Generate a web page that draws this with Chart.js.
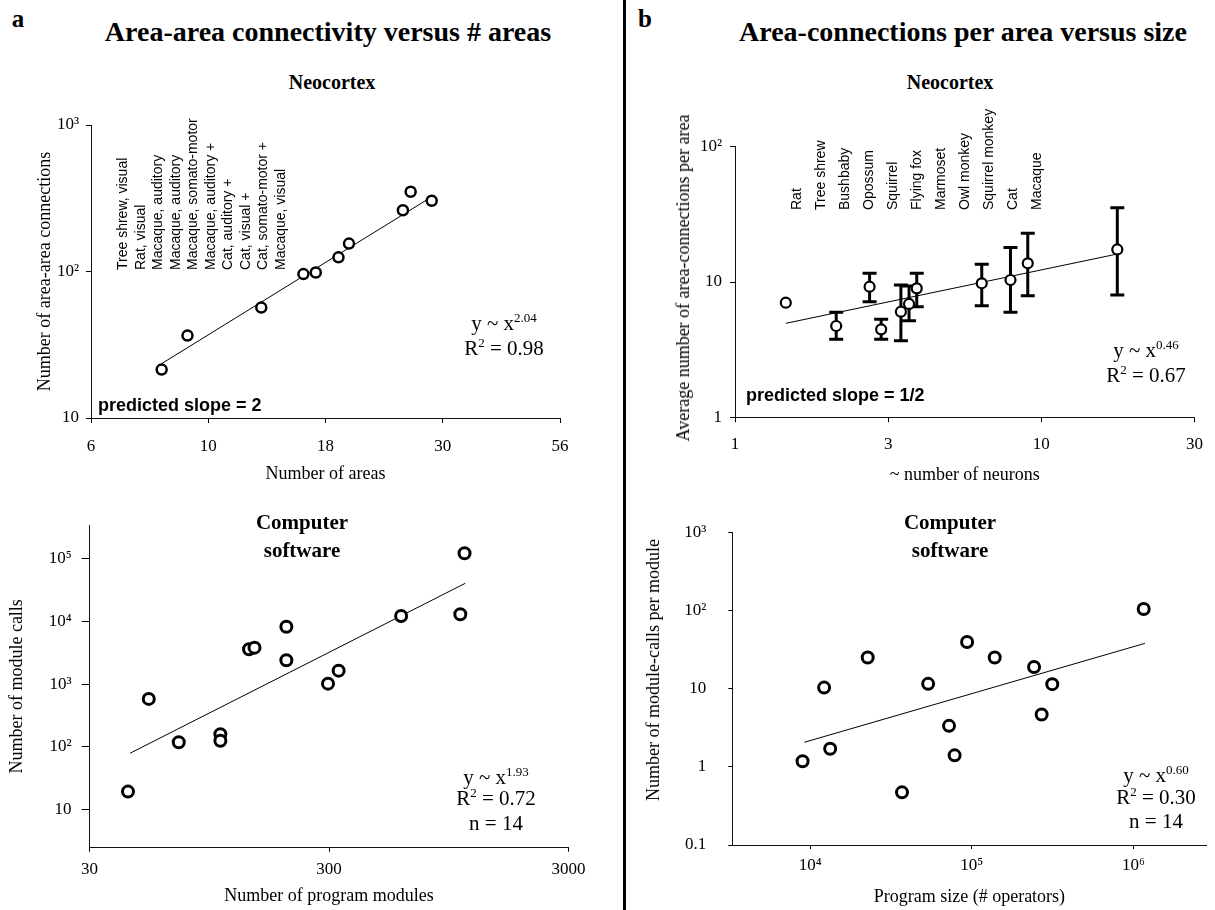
<!DOCTYPE html>
<html>
<head>
<meta charset="utf-8">
<title>Connectivity versus size</title>
<script src="https://cdn.jsdelivr.net/npm/chart.js@4.4.1/dist/chart.umd.min.js"></script>
<style>
  body { margin: 0; background: #fff; }
  #page { position: relative; width: 1215px; height: 910px; overflow: hidden;
          font-family: "Liberation Serif", "Times New Roman", serif; color: #000; }
  #page canvas { position: absolute; }
  .t { position: absolute; white-space: nowrap; line-height: 1; }
  .t sup { font-size: 62%; vertical-align: 0.55em; line-height: 0; }
  .letter { font-weight: bold; font-size: 25px; }
  .big { font-weight: bold; font-size: 28px; }
  .sub { font-weight: bold; font-size: 20px; }
  .soft { font-weight: bold; font-size: 21px; }
  .fit { font-size: 21px; }
  .ax { font-size: 18px; }
  .sp { font-family: "Liberation Sans", Arial, sans-serif; font-size: 14px; }
  .pred { font-family: "Liberation Sans", Arial, sans-serif; font-size: 18px; font-weight: bold; }
  #divider { position: absolute; left: 623px; top: 0; width: 3px; height: 910px; background: #000; }
</style>
</head>
<body>
<div id="page">
  <div id="divider"></div>
  <canvas id="areaChart" width="600" height="400" style="left:0;top:100px"></canvas>
  <canvas id="neuronChart" width="595" height="400" style="left:620px;top:100px"></canvas>
  <canvas id="moduleChart" width="600" height="410" style="left:0;top:500px"></canvas>
  <canvas id="sizeChart" width="595" height="410" style="left:620px;top:500px"></canvas>
</div>
<script>
// a, neocortex: number of areas vs area-area connections
var areaCount = [8.4, 9.5, 13.5, 16.5, 17.5, 19.5, 20.5, 26.5, 27.5, 30.4];
var areaConnections = [21.4, 36.5, 56.7, 96, 98.5, 125, 155, 262, 350, 304];
var areaFitX = [8.4, 30.8];
var areaFitY = [23.5, 332];
var areaStudies = ['Tree shrew, visual', 'Rat, visual', 'Macaque, auditory', 'Macaque, auditory',
  'Macaque, somato-motor', 'Macaque, auditory +', 'Cat, auditory +', 'Cat, visual +',
  'Cat, somato-motor +', 'Macaque, visual'];
var areaXTicks = ['6', '10', '18', '30', '56'];
var areaYTicks = ['10', '10²', '10³'];

// b, neocortex: neurons vs connections per area (with error bars)
var neuronCount = [1.465, 2.14, 2.75, 3.0, 3.48, 3.70, 3.92, 6.39, 7.93, 9.03, 17.7];
var connPerArea = [7.03, 4.73, 9.23, 4.47, 6.03, 6.88, 8.98, 9.78, 10.35, 13.75, 17.4];
var connPerAreaLow = [null, 3.77, 7.15, 3.77, 3.68, 5.18, 6.57, 6.68, 5.97, 7.92, 8.02];
var connPerAreaHigh = [null, 5.97, 11.6, 5.3, 9.5, 9.34, 11.6, 13.5, 18.0, 22.9, 35.4];
var neuronFitX = [1.465, 17.7];
var neuronFitY = [4.95, 16.1];
var species = ['Rat', 'Tree shrew', 'Bushbaby', 'Opossum', 'Squirrel', 'Flying fox', 'Marmoset',
  'Owl monkey', 'Squirrel monkey', 'Cat', 'Macaque'];
var neuronXTicks = ['1', '3', '10', '30'];
var neuronYTicks = ['1', '10', '10²'];

// a, software: program modules vs module calls
var moduleCount = [43.4, 53, 70.7, 105.5, 105.5, 139, 146.5, 199, 199, 297, 329, 600, 1060, 1104];
var moduleCalls = [19.5, 582, 119, 160, 126, 3590, 3805, 8200, 2400, 1018, 1639, 12140, 12920, 120500];
var moduleFitX = [44.3, 1112];
var moduleFitY = [79.7, 40200];
var moduleXTicks = ['30', '300', '3000'];
var moduleYTicks = ['10', '10²', '10³', '10⁴', '10⁵'];

// b, software: program size vs calls per module
var programSize = [8980, 12200, 13300, 22700, 37000, 53700, 72300, 78300, 93500, 138600, 242700, 270400, 314600, 1157000];
var callsPerModule = [1.18, 10.3, 1.70, 25.0, 0.471, 11.5, 3.34, 1.40, 39.4, 25.0, 18.9, 4.67, 11.4, 104];
var sizeFitX = [9220, 1177000];
var sizeFitY = [2.06, 37.9];
var sizeXTicks = ['10⁴', '10⁵', '10⁶'];
var sizeYTicks = ['0.1', '1', '10', '10²', '10³'];

Chart.defaults.font.family = '"Liberation Serif", "Times New Roman", serif';
Chart.defaults.font.size = 17;
Chart.defaults.color = '#000';

function logAxis(o) {
  return {
    type: 'logarithmic',
    min: o.min,
    max: o.max,
    afterBuildTicks: function (scale) {
      scale.ticks = o.values.map(function (v) { return { value: v }; });
    },
    afterFit: function (scale) {
      if (o.width) scale.width = o.width;
      if (o.height) scale.height = o.height;
    },
    grid: { drawOnChartArea: false, drawTicks: true, tickLength: o.tick || 5, color: '#000' },
    border: { display: true, color: '#111', width: 1 },
    ticks: {
      autoSkip: false, maxRotation: 0, minRotation: 0, padding: o.pad,
      callback: function (v, i) { return o.labels[i]; }
    },
    title: o.title ? { display: true, text: o.title, font: { size: 18 }, padding: o.titlePad } : { display: false }
  };
}

function points(xs, ys, r, bw) {
  return {
    data: xs.map(function (x, i) { return { x: x, y: ys[i] }; }),
    pointRadius: r, pointBorderWidth: bw, pointBorderColor: '#000',
    pointBackgroundColor: '#fff', showLine: false
  };
}

function fitLine(xs, ys) {
  return {
    data: xs.map(function (x, i) { return { x: x, y: ys[i] }; }),
    showLine: true, borderColor: '#000', borderWidth: 1, pointRadius: 0
  };
}

function baseOptions(padding, x, y) {
  return {
    responsive: false,
    animation: false,
    events: [],
    layout: { padding: padding },
    plugins: { legend: { display: false }, tooltip: { enabled: false } },
    scales: { x: x, y: y }
  };
}

// error bars drawn from the y scale, under the markers
var errorBars = {
  id: 'errorBars',
  beforeDatasetsDraw: function (chart) {
    var ctx = chart.ctx, xs = chart.scales.x, ys = chart.scales.y;
    ctx.save();
    ctx.strokeStyle = '#000';
    ctx.lineWidth = 3;
    neuronCount.forEach(function (n, i) {
      if (connPerAreaLow[i] == null) return;
      var px = xs.getPixelForValue(n);
      var lo = ys.getPixelForValue(connPerAreaLow[i]);
      var hi = ys.getPixelForValue(connPerAreaHigh[i]);
      ctx.beginPath();
      ctx.moveTo(px, lo); ctx.lineTo(px, hi);
      ctx.moveTo(px - 7, lo); ctx.lineTo(px + 7, lo);
      ctx.moveTo(px - 7, hi); ctx.lineTo(px + 7, hi);
      ctx.stroke();
    });
    ctx.restore();
  }
};

// x ticks of panel a are equally spaced on the log axis
var areaTickValues = areaXTicks.map(function (t, i) {
  return 6 * Math.pow(56 / 6, i / (areaXTicks.length - 1));
});
var neuronTickValues = neuronXTicks.map(function (t, i) { return Math.pow(10, i / 2); });

new Chart(document.getElementById('areaChart'), {
  type: 'scatter',
  data: { datasets: [points(areaCount, areaConnections, 5, 2.5), fitLine(areaFitX, areaFitY)] },
  options: baseOptions({ top: 25, right: 40, bottom: 0, left: 0 },
    logAxis({ min: 6, max: 56, values: areaTickValues, labels: areaXTicks, height: 82, pad: 13,
      title: 'Number of areas', titlePad: { top: 0, bottom: 15 } }),
    logAxis({ min: 10, max: 1000, values: [10, 100, 1000], labels: areaYTicks, width: 91, pad: 7,
      title: 'Number of area-area connections', titlePad: { top: 34, bottom: 0 } }))
});

new Chart(document.getElementById('neuronChart'), {
  type: 'scatter',
  data: { datasets: [points(neuronCount, connPerArea, 5, 2.2), fitLine(neuronFitX, neuronFitY)] },
  options: baseOptions({ top: 46.7, right: 20.4, bottom: 0, left: 0 },
    logAxis({ min: 1, max: Math.pow(10, 1.5), values: neuronTickValues, labels: neuronXTicks, height: 82.7, pad: 12,
      title: '~ number of neurons', titlePad: { top: 0, bottom: 14 } }),
    logAxis({ min: 1, max: 100, values: [1, 10, 100], labels: neuronYTicks, width: 115, pad: 8 })),
  plugins: [errorBars]
});

new Chart(document.getElementById('moduleChart'), {
  type: 'scatter',
  data: { datasets: [points(moduleCount, moduleCalls, 5.5, 3), fitLine(moduleFitX, moduleFitY)] },
  options: baseOptions({ top: 25, right: 31.5, bottom: 0, left: 0 },
    logAxis({ min: 30, max: 3000, values: [30, 300, 3000], labels: moduleXTicks, height: 62.3, pad: 8, tick: 4,
      title: 'Number of program modules', titlePad: { top: 0, bottom: 2.5 } }),
    logAxis({ min: 2.5, max: 340000, values: [10, 100, 1000, 10000, 100000], labels: moduleYTicks, width: 89.6, pad: 10, tick: 8,
      title: 'Number of module calls', titlePad: { top: 6, bottom: 0 } }))
});

new Chart(document.getElementById('sizeChart'), {
  type: 'scatter',
  data: { datasets: [points(programSize, callsPerModule, 5.5, 3), fitLine(sizeFitX, sizeFitY)] },
  options: baseOptions({ top: 26.7, right: 2, bottom: 0, left: 0 },
    logAxis({ min: 3300, max: 2830000, values: [10000, 100000, 1000000], labels: sizeXTicks, height: 65, pad: 6, tick: 4,
      title: 'Program size (# operators)', titlePad: { top: 0, bottom: 1.5 } }),
    logAxis({ min: 0.1, max: 1000, values: [0.1, 1, 10, 100, 1000], labels: sizeYTicks, width: 112.3, pad: 22, tick: 4 }))
});

// text around the plots
var page = document.getElementById('page');
function addText(html, x, y, cls, anchor) {
  var d = document.createElement('div');
  d.className = 't ' + cls;
  d.innerHTML = html;
  d.style.left = x + 'px';
  d.style.top = y + 'px';
  if (anchor === 'left') d.style.transform = 'translate(0,-50%)';
  else if (anchor === 'rot') d.style.transform = 'translate(-50%,-50%) rotate(-90deg)';
  else if (anchor === 'up') { d.style.transformOrigin = '0 0'; d.style.transform = 'rotate(-90deg) translateY(-50%)'; }
  else d.style.transform = 'translate(-50%,-50%)';
  page.appendChild(d);
}

addText('a', 18, 18, 'letter');
addText('Area-area connectivity versus # areas', 328, 32, 'big');
addText('Neocortex', 332, 82, 'sub');
areaStudies.forEach(function (s, i) { addText(s, 122 + i * 17.5, 270, 'sp', 'up'); });
addText('predicted slope = 2', 98, 405, 'pred', 'left');
addText('y ~ x<sup>2.04</sup>', 504, 323, 'fit');
addText('R<sup>2</sup> = 0.98', 504, 348, 'fit');

addText('b', 645, 18, 'letter');
addText('Area-connections per area versus size', 963, 32, 'big');
addText('Neocortex', 950, 82, 'sub');
species.forEach(function (s, i) { addText(s, 796 + i * 24, 210, 'sp', 'up'); });
addText('predicted slope = 1/2', 746, 395, 'pred', 'left');
addText('y ~ x<sup>0.46</sup>', 1146, 350, 'fit');
addText('R<sup>2</sup> = 0.67', 1146, 375, 'fit');
addText('Average number of area-connections per area', 683, 278, 'ax', 'rot');

addText('Computer', 302, 522, 'soft');
addText('software', 302, 550, 'soft');
addText('y ~ x<sup>1.93</sup>', 496, 777, 'fit');
addText('R<sup>2</sup> = 0.72', 496, 798, 'fit');
addText('n = 14', 496, 823, 'fit');

addText('Computer', 950, 522, 'soft');
addText('software', 950, 550, 'soft');
addText('y ~ x<sup>0.60</sup>', 1156, 775, 'fit');
addText('R<sup>2</sup> = 0.30', 1156, 797, 'fit');
addText('n = 14', 1156, 821, 'fit');
addText('Number of module-calls per module', 653, 670, 'ax', 'rot');
</script>
</body>
</html>
